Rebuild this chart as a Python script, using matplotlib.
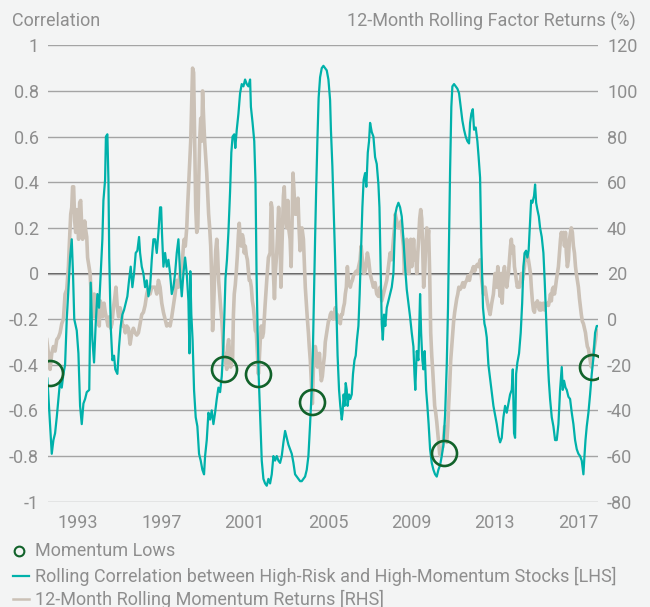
import matplotlib
matplotlib.use("Agg")
import matplotlib.pyplot as plt
from matplotlib.lines import Line2D

# ---------------- data ----------------
corr_years = [
    1991.53, 1991.63, 1991.74, 1991.82, 1991.90, 1991.98, 1992.06, 1992.14, 1992.22, 1992.30,
    1992.38, 1992.46, 1992.54, 1992.62, 1992.70, 1992.76, 1992.82, 1992.94, 1993.02, 1993.10,
    1993.18, 1993.26, 1993.34, 1993.42, 1993.54, 1993.61, 1993.69, 1993.77, 1993.85, 1993.93,
    1994.01, 1994.09, 1994.17, 1994.22, 1994.30, 1994.34, 1994.41, 1994.46, 1994.50, 1994.57,
    1994.65, 1994.73, 1994.79, 1994.89, 1994.97, 1995.05, 1995.13, 1995.21, 1995.29, 1995.37,
    1995.45, 1995.53, 1995.61, 1995.69, 1995.77, 1995.85, 1995.93, 1995.98, 1996.06, 1996.14,
    1996.22, 1996.30, 1996.38, 1996.46, 1996.54, 1996.62,
    1996.70, 1996.78, 1996.86, 1996.94, 1996.99, 1997.03, 1997.10, 1997.18, 1997.26, 1997.34,
    1997.42, 1997.50, 1997.58, 1997.66, 1997.74, 1997.82, 1997.90, 1997.98, 1998.06, 1998.14,
    1998.22, 1998.30, 1998.35, 1998.39, 1998.44, 1998.50, 1998.57, 1998.65, 1998.73, 1998.81,
    1998.89, 1998.97, 1999.05, 1999.10, 1999.18, 1999.26, 1999.34, 1999.42, 1999.50, 1999.58,
    1999.66, 1999.74, 1999.82, 1999.90, 1999.96, 2000.02, 2000.08, 2000.15, 2000.22, 2000.30,
    2000.36, 2000.42, 2000.50, 2000.55, 2000.62, 2000.70, 2000.78, 2000.86, 2000.94, 2001.02,
    2001.10, 2001.18, 2001.26, 2001.30, 2001.38, 2001.46, 2001.52, 2001.57, 2001.62, 2001.67,
    2001.74, 2001.82, 2001.90,
    2001.98, 2002.06, 2002.14, 2002.22, 2002.30, 2002.38, 2002.46, 2002.54, 2002.62, 2002.70,
    2002.78, 2002.86, 2002.94, 2003.02, 2003.10, 2003.18, 2003.26, 2003.34, 2003.42, 2003.50,
    2003.58, 2003.66, 2003.74, 2003.82, 2003.90, 2003.98, 2004.06, 2004.14, 2004.22, 2004.27,
    2004.33, 2004.38, 2004.43, 2004.49, 2004.55, 2004.62, 2004.70, 2004.78, 2004.86, 2004.94,
    2005.02, 2005.10, 2005.14, 2005.21, 2005.27, 2005.34, 2005.40, 2005.46, 2005.53, 2005.59,
    2005.66, 2005.70, 2005.75, 2005.80, 2005.85, 2005.90, 2005.94, 2006.01, 2006.07, 2006.14,
    2006.20, 2006.27, 2006.33, 2006.39, 2006.46, 2006.52, 2006.59, 2006.65, 2006.71, 2006.78,
    2006.84, 2006.91, 2006.97,
    2007.02, 2007.10, 2007.18, 2007.26, 2007.34, 2007.42, 2007.47, 2007.53, 2007.58, 2007.63,
    2007.69, 2007.75, 2007.82, 2007.90, 2007.98, 2008.06, 2008.14, 2008.19, 2008.23, 2008.30,
    2008.38, 2008.46, 2008.54, 2008.62, 2008.70, 2008.78, 2008.86, 2008.94, 2009.02, 2009.10,
    2009.15, 2009.19, 2009.26, 2009.34, 2009.42, 2009.47, 2009.53, 2009.58, 2009.64, 2009.71,
    2009.77, 2009.83, 2009.90, 2009.98, 2010.06, 2010.14, 2010.22, 2010.30, 2010.38, 2010.46,
    2010.54, 2010.62, 2010.70, 2010.76, 2010.81, 2010.86, 2010.92, 2010.97, 2011.05, 2011.13,
    2011.21, 2011.29, 2011.37, 2011.45, 2011.53, 2011.61, 2011.69, 2011.77, 2011.82, 2011.88,
    2011.95, 2012.01, 2012.09, 2012.17, 2012.23,
    2012.30, 2012.36, 2012.44, 2012.51, 2012.56, 2012.62, 2012.70, 2012.78, 2012.86, 2012.94,
    2013.02, 2013.10, 2013.18, 2013.26, 2013.34, 2013.42, 2013.50, 2013.58, 2013.66, 2013.74,
    2013.82, 2013.87, 2013.93, 2013.98, 2014.03, 2014.09, 2014.17, 2014.25, 2014.32, 2014.38,
    2014.44, 2014.51, 2014.57, 2014.63, 2014.70, 2014.75, 2014.81, 2014.89, 2014.94, 2014.99,
    2015.05, 2015.12, 2015.18, 2015.26, 2015.34, 2015.40, 2015.45, 2015.50, 2015.55, 2015.60,
    2015.66, 2015.74, 2015.82, 2015.90, 2015.98, 2016.06, 2016.14, 2016.22, 2016.27, 2016.33,
    2016.40, 2016.46, 2016.54, 2016.62, 2016.70, 2016.78, 2016.86, 2016.94, 2017.02, 2017.10,
    2017.18, 2017.26, 2017.31, 2017.36, 2017.42, 2017.50, 2017.58, 2017.66, 2017.74, 2017.82,
    2017.90, 2017.95,
]
corr_values = [
    -0.46, -0.62, -0.79, -0.73, -0.70, -0.63, -0.55, -0.47, -0.50, -0.44,
    -0.40, -0.20, -0.07, 0.07, 0.15, 0.00, -0.20, -0.25, -0.35, -0.58,
    -0.66, -0.57, -0.55, -0.52, -0.51, -0.04, -0.29, -0.39, -0.22, -0.09,
    -0.15, 0.00, 0.15, 0.32, 0.41, 0.60, 0.61, 0.41, 0.07, -0.23,
    -0.38, -0.36, -0.42, -0.44, -0.32, -0.23, -0.18, -0.16, -0.13, -0.10,
    -0.03, 0.03, -0.06, 0.00, 0.09, 0.10, 0.16, 0.09, 0.03, 0.00,
    -0.06, -0.03, -0.10, -0.06, 0.06, 0.15,
    0.15, 0.09, 0.18, 0.29, 0.29, 0.18, 0.03, 0.09, 0.03, 0.06,
    0.00, -0.09, -0.06, 0.00, 0.09, 0.15, 0.00, -0.10, 0.00, 0.07,
    0.00, -0.12, -0.35, 0.01, -0.18, -0.29, -0.51, -0.63, -0.67, -0.79,
    -0.82, -0.86, -0.88, -0.80, -0.73, -0.61, -0.64, -0.60, -0.66, -0.61,
    -0.55, -0.50, -0.52, -0.45, -0.35, -0.20, -0.02, 0.06, 0.18, 0.36,
    0.53, 0.60, 0.61, 0.55, 0.63, 0.70, 0.79, 0.83, 0.82, 0.85,
    0.83, 0.82, 0.85, 0.73, 0.66, 0.58, 0.40, 0.00, -0.25, -0.44,
    -0.62, -0.82, -0.90,
    -0.92, -0.93, -0.90, -0.92, -0.88, -0.80, -0.82, -0.80, -0.82, -0.83,
    -0.80, -0.74, -0.69, -0.72, -0.75, -0.77, -0.79, -0.83, -0.88, -0.89,
    -0.90, -0.91, -0.91, -0.90, -0.89, -0.86, -0.80, -0.66, -0.51, -0.36,
    -0.07, 0.15, 0.36, 0.58, 0.77, 0.86, 0.90, 0.91, 0.90, 0.89,
    0.85, 0.76, 0.63, 0.47, 0.29, 0.07, -0.15, -0.36, -0.51, -0.58,
    -0.64, -0.61, -0.53, -0.58, -0.48, -0.51, -0.58, -0.53, -0.55, -0.53,
    -0.44, -0.38, -0.36, -0.29, -0.23, -0.09, 0.12, 0.29, 0.41, 0.44,
    0.38, 0.53, 0.58,
    0.66, 0.62, 0.60, 0.51, 0.48, 0.39, 0.29, 0.00, -0.22, -0.29,
    -0.18, -0.23, -0.15, -0.12, -0.09, -0.06, 0.00, 0.15, 0.26, 0.29,
    0.31, 0.29, 0.25, 0.15, 0.03, -0.07, -0.13, -0.19, -0.26, -0.32,
    -0.44, -0.51, -0.34, -0.38, -0.09, -0.26, -0.38, -0.42, -0.34, -0.51,
    -0.58, -0.66, -0.77, -0.83, -0.86, -0.88, -0.89, -0.86, -0.84, -0.80,
    -0.75, -0.62, -0.40, -0.15, 0.15, 0.45, 0.73, 0.82, 0.83, 0.82,
    0.81, 0.79, 0.73, 0.67, 0.63, 0.60, 0.58, 0.57, 0.66, 0.70,
    0.72, 0.63, 0.64, 0.58, 0.51,
    0.42, 0.12, -0.15, -0.22, -0.24, -0.28, -0.40, -0.46, -0.52, -0.58,
    -0.62, -0.66, -0.71, -0.74, -0.72, -0.63, -0.58, -0.61, -0.57, -0.53,
    -0.51, -0.42, -0.70, -0.72, -0.44, -0.39, -0.35, -0.26, -0.13, 0.03,
    0.09, 0.10, 0.07, 0.10, 0.23, 0.32, 0.31, 0.34, 0.39, 0.31,
    0.28, 0.25, 0.20, 0.16, 0.09, -0.03, -0.15, -0.26, -0.38, -0.47,
    -0.55, -0.63, -0.67, -0.73, -0.73, -0.66, -0.51, -0.41, -0.51, -0.47,
    -0.50, -0.51, -0.54, -0.55, -0.61, -0.66, -0.73, -0.77, -0.79, -0.80,
    -0.82, -0.88, -0.80, -0.73, -0.67, -0.61, -0.53, -0.44, -0.37, -0.26,
    -0.23, -0.23,
]

mom_years = [
    1991.50, 1991.58, 1991.66, 1991.74, 1991.82, 1991.90, 1991.98, 1992.06, 1992.14, 1992.22,
    1992.30, 1992.38, 1992.46, 1992.54, 1992.58, 1992.65, 1992.70, 1992.74, 1992.79, 1992.84,
    1992.89, 1992.94, 1992.98, 1993.03, 1993.08, 1993.13, 1993.18, 1993.22, 1993.27, 1993.32,
    1993.37, 1993.42, 1993.46, 1993.53, 1993.58, 1993.62, 1993.67, 1993.74, 1993.78, 1993.85,
    1993.90, 1993.96, 1994.02, 1994.07, 1994.14, 1994.18, 1994.25, 1994.31, 1994.38, 1994.44,
    1994.50, 1994.57, 1994.63, 1994.70, 1994.76, 1994.82, 1994.89, 1994.95, 1995.02, 1995.08,
    1995.14, 1995.21, 1995.27, 1995.34, 1995.42, 1995.50, 1995.58, 1995.66, 1995.74, 1995.82,
    1995.90, 1995.98, 1996.06, 1996.14, 1996.22, 1996.30, 1996.38, 1996.46, 1996.54, 1996.62,
    1996.70, 1996.78, 1996.86, 1996.94, 1997.02, 1997.10, 1997.18, 1997.26, 1997.34, 1997.42,
    1997.50, 1997.58, 1997.66, 1997.74, 1997.82, 1997.90, 1997.98, 1998.06, 1998.10, 1998.15,
    1998.22, 1998.26, 1998.31, 1998.36, 1998.41, 1998.46, 1998.50, 1998.55, 1998.60, 1998.65,
    1998.70, 1998.75, 1998.79, 1998.84, 1998.89, 1998.94, 1998.98, 1999.03, 1999.08, 1999.13,
    1999.18, 1999.22, 1999.27, 1999.32, 1999.37, 1999.42, 1999.46, 1999.51, 1999.56, 1999.61,
    1999.66, 1999.70, 1999.75, 1999.80, 1999.85, 1999.90, 1999.94, 1999.99, 2000.04, 2000.09,
    2000.14, 2000.18, 2000.23, 2000.28, 2000.33, 2000.38, 2000.42, 2000.46, 2000.50, 2000.55,
    2000.60, 2000.65, 2000.70, 2000.74, 2000.79, 2000.84, 2000.89, 2000.94, 2000.98, 2001.03,
    2001.08, 2001.13, 2001.18, 2001.22, 2001.27, 2001.32, 2001.37, 2001.42, 2001.46, 2001.51,
    2001.56, 2001.61, 2001.66, 2001.70, 2001.75, 2001.80,
    2001.85, 2001.90, 2001.98, 2002.06, 2002.14, 2002.22, 2002.27, 2002.31, 2002.38, 2002.43,
    2002.47, 2002.54, 2002.59, 2002.63, 2002.70, 2002.74, 2002.79, 2002.86, 2002.90, 2002.95,
    2003.02, 2003.07, 2003.11, 2003.18, 2003.23, 2003.27, 2003.32, 2003.37, 2003.42, 2003.47,
    2003.51, 2003.56, 2003.61, 2003.66, 2003.70, 2003.75, 2003.82, 2003.87, 2003.91, 2003.96,
    2004.01, 2004.06, 2004.10, 2004.15, 2004.20, 2004.25, 2004.30, 2004.35, 2004.39, 2004.44,
    2004.49, 2004.54, 2004.59, 2004.63, 2004.68, 2004.73, 2004.78, 2004.83, 2004.87, 2004.92,
    2004.97, 2005.02, 2005.07, 2005.11, 2005.16, 2005.21, 2005.26, 2005.31, 2005.35, 2005.40,
    2005.45, 2005.50, 2005.54, 2005.59, 2005.64, 2005.69, 2005.74, 2005.79, 2005.83, 2005.88,
    2005.93, 2005.98, 2006.03, 2006.07, 2006.12, 2006.17, 2006.22, 2006.28, 2006.35, 2006.41,
    2006.47, 2006.54, 2006.59, 2006.63, 2006.68, 2006.73, 2006.78, 2006.83, 2006.89, 2006.95,
    2007.02, 2007.10, 2007.18, 2007.26, 2007.34, 2007.42, 2007.50, 2007.58, 2007.66, 2007.74,
    2007.82, 2007.90, 2007.98, 2008.06, 2008.14, 2008.19, 2008.23, 2008.30, 2008.38, 2008.46,
    2008.51, 2008.55, 2008.62, 2008.67, 2008.71, 2008.78, 2008.83, 2008.88, 2008.92, 2008.97,
    2009.02, 2009.07, 2009.11, 2009.16, 2009.21, 2009.26, 2009.31, 2009.35, 2009.40, 2009.45,
    2009.50, 2009.55, 2009.59, 2009.64, 2009.69, 2009.74, 2009.79, 2009.83, 2009.88, 2009.93,
    2009.98, 2010.03, 2010.07, 2010.12, 2010.17, 2010.22, 2010.27, 2010.31, 2010.36, 2010.41,
    2010.46, 2010.51, 2010.55, 2010.60, 2010.65, 2010.70, 2010.75, 2010.79, 2010.84, 2010.89,
    2010.94, 2010.99, 2011.03, 2011.08, 2011.13, 2011.18, 2011.23, 2011.28, 2011.34, 2011.40,
    2011.47, 2011.53, 2011.59, 2011.66, 2011.72, 2011.79, 2011.85, 2011.91, 2011.98, 2012.04,
    2012.10, 2012.17, 2012.23,
    2012.30, 2012.38, 2012.46, 2012.54, 2012.62, 2012.70, 2012.78, 2012.86, 2012.94, 2013.02,
    2013.10, 2013.15, 2013.20, 2013.26, 2013.31, 2013.36, 2013.42, 2013.47, 2013.52, 2013.58,
    2013.66, 2013.71, 2013.76, 2013.80, 2013.85, 2013.90, 2013.95, 2014.00, 2014.04, 2014.09,
    2014.14, 2014.19, 2014.24, 2014.28, 2014.33, 2014.38, 2014.43, 2014.48, 2014.52, 2014.57,
    2014.62, 2014.67, 2014.72, 2014.76, 2014.81, 2014.86, 2014.91, 2014.96, 2015.00, 2015.05,
    2015.10, 2015.15, 2015.20, 2015.24, 2015.29, 2015.34, 2015.39, 2015.44, 2015.48, 2015.53,
    2015.58, 2015.63, 2015.68, 2015.72, 2015.77, 2015.82, 2015.87, 2015.92, 2015.96, 2016.01,
    2016.06, 2016.11, 2016.16, 2016.20, 2016.25, 2016.30, 2016.35, 2016.40, 2016.44, 2016.49,
    2016.54, 2016.59, 2016.64, 2016.68, 2016.73, 2016.78, 2016.83, 2016.88, 2016.92, 2016.97,
    2017.02, 2017.07, 2017.12, 2017.16, 2017.21, 2017.26, 2017.31, 2017.36, 2017.40, 2017.45,
    2017.50, 2017.55, 2017.60, 2017.64, 2017.69, 2017.74, 2017.79, 2017.84, 2017.88, 2017.93,
]
mom_returns = [
    -9, -15, -22, -15, -12, -14, -9, -8, -6, -2,
    0, 11, 13, 23, 32, 46, 49, 58, 58, 43,
    38, 48, 43, 35, 51, 52, 40, 35, 36, 43,
    39, 36, 27, 23, 20, 13, 5, 1, 11, 5,
    1, 7, -3, 8, 5, 1, 7, 3, 0, -3,
    1, -4, -2, 5, 9, 14, 5, 1, 5, 3,
    -3, -3, -6, -3, -4, -11, -6, -4, -6, -7,
    -6, -2, 2, 3, 6, 11, 14, 11, 14, 14,
    14, 11, 17, 14, 7, 3, 0, -3, -2, -3,
    1, 6, 11, 17, 14, 20, 21, 32, 35, 32,
    40, 49, 59, 68, 78, 96, 110, 108, 78, 49,
    38, 40, 59, 78, 88, 78, 100, 88, 78, 71,
    64, 56, 46, 40, 32, 17, -5, 5, 20, 30,
    35, 29, 17, 11, 5, 0, -6, -17, -15, -19,
    -22, -12, -9, -15, -21, -18, -18, 2, 11, 15,
    21, 28, 37, 42, 35, 32, 37, 35, 29, 32,
    28, 26, 21, 17, 17, 14, 8, 5, 1, -5,
    -6, -15, -24, -18, -9, -3,
    -8, -6, 6, 17, 27, 29, 51, 49, 20, 9,
    20, 29, 40, 49, 35, 14, 32, 54, 58, 45,
    40, 52, 40, 35, 23, 40, 64, 56, 46, 49,
    46, 53, 40, 30, 37, 40, 35, 23, 14, 7,
    0, -6, -12, -18, -28, -37, -21, -18, -12, -15,
    -21, -18, -15, -21, -27, -25, -20, -16, -10, -7,
    -4, -1, 0, 2, 3, 2, 0, 2, 5, 0,
    2, 0, -1, -2, 2, 2, 5, 7, 11, 14,
    23, 17, 16, 14, 16, 17, 19, 20, 21, 20,
    23, 26, 32, 28, 23, 20, 21, 24, 29, 26,
    20, 17, 14, 16, 11, 10, 14, 8, 11, 14,
    17, 23, 29, 26, 35, 40, 46, 43, 40, 40,
    43, 38, 32, 20, 27, 35, 23, 20, 27, 35,
    23, 29, 35, 26, 29, 20, 29, 35, 44, 48,
    44, 29, 14, 20, 32, 40, 35, 39, 20, -6,
    -16, -23, -30, -38, -41, -45, -50, -54, -59, -60,
    -57, -56, -52, -47, -53, -54, -47, -38, -29, -18,
    -12, -6, -1, 3, 6, 9, 11, 14, 13, 14,
    16, 14, 16, 17, 19, 17, 20, 21, 23, 21,
    23, 24, 23,
    26, 17, 11, 14, 9, 5, 2, 7, 11, 20,
    14, 23, 17, 10, 20, 7, 20, 23, 17, 14,
    20, 26, 32, 35, 29, 32, 23, 20, 17, 14,
    16, 14, 17, 20, 17, 20, 23, 29, 26, 29,
    26, 23, 20, 14, 8, 4, 3, 7, 6, 8,
    6, 4, 7, 4, 6, 7, 4, 6, 6, 7,
    6, 8, 11, 8, 13, 14, 11, 14, 17, 20,
    23, 29, 35, 38, 35, 38, 32, 38, 29, 23,
    26, 35, 38, 40, 38, 32, 29, 23, 20, 17,
    14, 9, 5, 2, -1, -2, -4, -6, -9, -12,
    -13, -16, -19, -21, -16, -15, -12, -9, -6, -5,
]

low_years = [1991.66, 2000.01, 2001.66, 2004.21, 2010.57, 2017.69]
low_corr = [-0.437, -0.418, -0.44, -0.562, -0.788, -0.408]

left_ticks = [1.0, 0.8, 0.6, 0.4, 0.2, 0.0, -0.2, -0.4, -0.6, -0.8, -1.0]
left_labels = ["1", "0.8", "0.6", "0.4", "0.2", "0", "-0.2", "-0.4", "-0.6", "-0.8", "-1"]
right_ticks = [120, 100, 80, 60, 40, 20, 0, -20, -40, -60, -80]
x_ticks = [1993, 1997, 2001, 2005, 2009, 2013, 2017]

legend_labels = [
    "Momentum Lows",
    "Rolling Correlation between High-Risk and High-Momentum Stocks [LHS]",
    "12-Month Rolling Momentum Returns [RHS]",
]

# ---------------- style ----------------
TEAL = "#00b1aa"
BEIGE = "#cbc1b6"
GREEN = "#11622a"
GRID = "#a4a4a4"
ZERO = "#2e2e2e"
TXT = "#8e8e8e"
BG = "#f3f4f4"
FS = 13.0

plt.rcParams["font.family"] = ["Roboto", "DejaVu Sans"]
plt.rcParams["font.weight"] = "normal"
plt.rcParams["axes.unicode_minus"] = False

W, H = 650, 607
fig = plt.figure(figsize=(W / 100, H / 100), dpi=100, facecolor=BG)

left, right, top, bottom = 48, 598, 45.3, 501.7
rect = [left / W, 1 - bottom / H, (right - left) / W, (bottom - top) / H]

# lower axes: right scale, grid, momentum returns
ax_r = fig.add_axes(rect)
ax_r.set_facecolor(BG)
ax_r.set_ylim(-80, 120)
ax_r.set_xlim(1991.56, 2017.96)
ax_r.set_yticks(right_ticks)
ax_r.yaxis.tick_right()
ax_r.tick_params(axis="y", length=0, pad=6.5, labelsize=FS, labelcolor=TXT)
ax_r.tick_params(axis="x", length=0, labelbottom=False)
ax_r.grid(axis="y", color=GRID, lw=1.0)
ax_r.axhline(20, color=ZERO, lw=1.1, zorder=1.5)
ax_r.plot(mom_years, mom_returns, color=BEIGE, lw=2.6, solid_joinstyle="round", zorder=2)
for s in ax_r.spines.values():
    s.set_visible(False)

# upper axes: left scale, correlation, circles
ax = fig.add_axes(rect, sharex=ax_r)
ax.patch.set_visible(False)
ax.set_ylim(-1, 1)
ax.set_yticks(left_ticks)
ax.set_yticklabels(left_labels)
ax.set_xticks(x_ticks)
ax.set_xticklabels([str(t) for t in x_ticks])
ax.tick_params(axis="both", length=0, labelsize=FS, labelcolor=TXT)
ax.tick_params(axis="y", pad=6.5)
ax.tick_params(axis="x", pad=9.0, labelbottom=True)
ax.plot(corr_years, corr_values, color=TEAL, lw=1.6, solid_joinstyle="round", zorder=3)
ax.plot(low_years, low_corr, linestyle="none", marker="o", ms=18, mfc="none",
        mec=GREEN, mew=1.9, zorder=4)
for s in ax.spines.values():
    s.set_visible(False)

# axis titles
fig.text(12 / W, 1 - 21 / H, "Correlation", ha="left", va="center",
         fontsize=FS, color=TXT)
fig.text(636 / W, 1 - 21 / H, "12-Month Rolling Factor Returns (%)", ha="right",
         va="center", fontsize=FS, color=TXT)

# legend (manual)
rows_y = [551, 576, 599]
fig.add_artist(Line2D([19 / W], [1 - rows_y[0] / H], marker="o", ms=7, mfc="none",
                      mec=GREEN, mew=1.5, linestyle="none", transform=fig.transFigure))
fig.add_artist(Line2D([13 / W, 29 / W], [1 - rows_y[1] / H] * 2, color=TEAL, lw=1.6,
                      transform=fig.transFigure))
fig.add_artist(Line2D([13 / W, 29 / W], [1 - rows_y[2] / H] * 2, color=BEIGE, lw=1.8,
                      transform=fig.transFigure))
for ry, lab in zip(rows_y, legend_labels):
    fig.text(35 / W, 1 - ry / H, lab, ha="left", va="center", fontsize=FS, color=TXT)

fig.savefig("out.png", dpi=100, facecolor=BG)
